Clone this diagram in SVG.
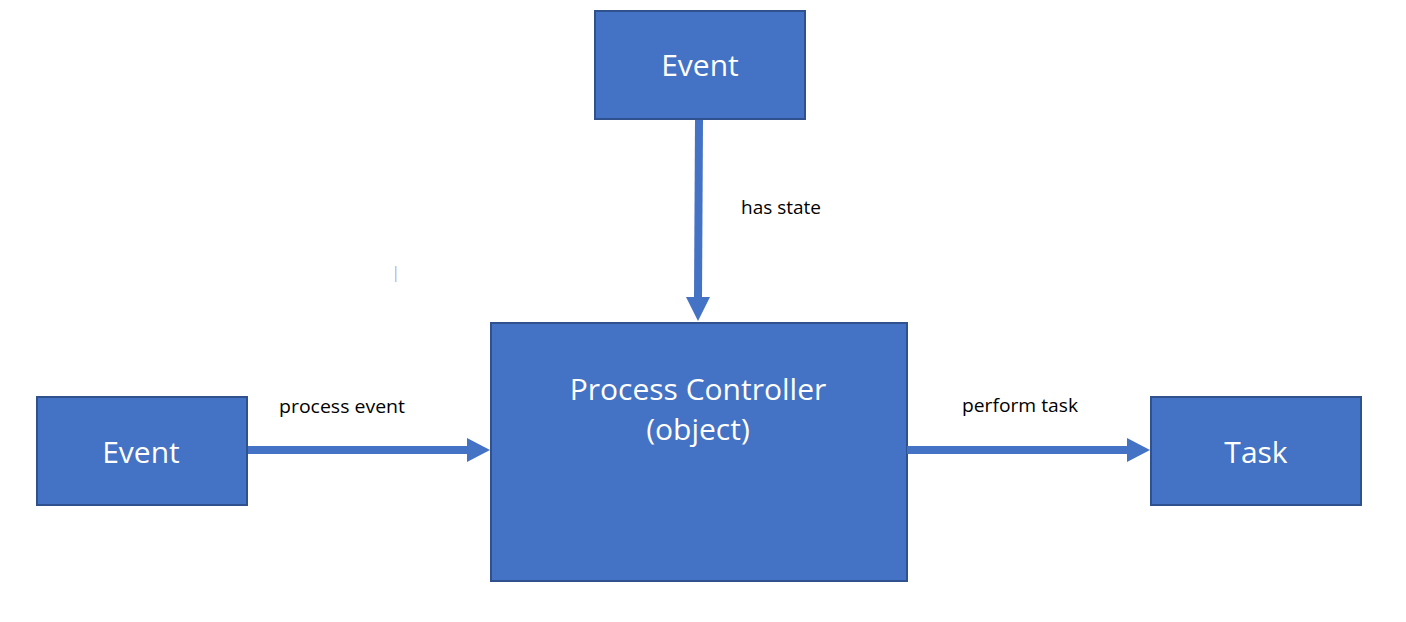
<svg xmlns="http://www.w3.org/2000/svg" width="1406" height="622" viewBox="0 0 1406 622">
<style>
.box{fill:#4472C4;stroke:#2F528F;stroke-width:2}
.t{font-family:"Open Sans","Noto Sans",sans-serif;fill:#FFFFFF;text-anchor:middle}
.big{font-size:30px}
.lbl{font-family:"Open Sans","Noto Sans",sans-serif;font-size:18.5px;fill:#000000}
.conn{stroke:#4472C4;stroke-width:8;fill:none}
.head{fill:#4472C4}
</style>
<rect width="1406" height="622" fill="#FFFFFF"/>
<g id="event-top">
<rect class="box" x="595" y="11" width="210" height="108"/>
<text class="t big" x="700" y="76">Event</text>
</g>
<g id="process-controller">
<rect class="box" x="491" y="323" width="416" height="258"/>
<text class="t big" x="698" y="400">Process Controller</text>
<text class="t big" x="698" y="440">(object)</text>
</g>
<g id="event-left">
<rect class="box" x="37" y="397" width="210" height="108"/>
<text class="t big" x="141" y="463">Event</text>
</g>
<g id="task">
<rect class="box" x="1151" y="397" width="210" height="108"/>
<text class="t big" x="1256" y="463">Task</text>
</g>
<g id="connectors">
<line class="conn" x1="699" y1="120" x2="698" y2="298"/>
<polygon class="head" points="686,297 710,297 698,321"/>
<line class="conn" x1="248" y1="450" x2="468" y2="450"/>
<polygon class="head" points="467,438 467,462 490,450"/>
<line class="conn" x1="907" y1="450" x2="1128" y2="450"/>
<polygon class="head" points="1127,438 1127,462 1150,450"/>
</g>
<g id="labels">
<text class="lbl" x="741" y="214" textLength="80" lengthAdjust="spacingAndGlyphs">has state</text>
<text class="lbl" x="279" y="413" textLength="126" lengthAdjust="spacingAndGlyphs">process event</text>
<text class="lbl" x="962" y="412" textLength="116" lengthAdjust="spacingAndGlyphs">perform task</text>
</g>
<rect x="395" y="266" width="1.5" height="16" fill="#A9CBF5"/>
</svg>
